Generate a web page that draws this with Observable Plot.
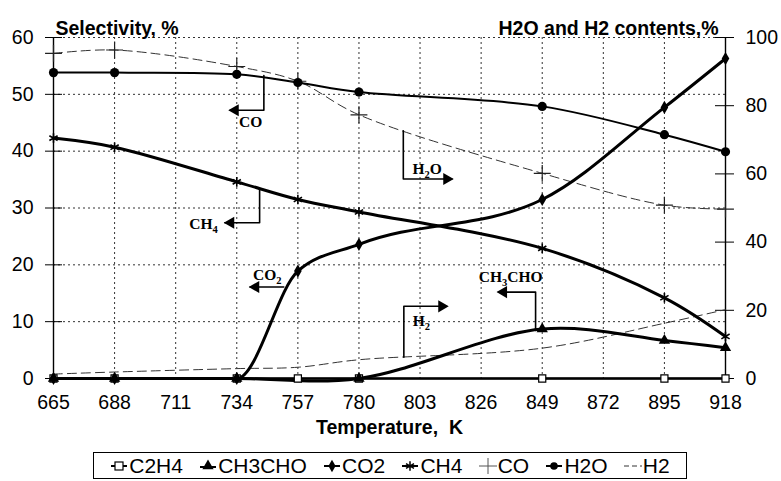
<!DOCTYPE html>
<html><head><meta charset="utf-8">
<script src="https://cdn.jsdelivr.net/npm/d3@7"></script>
<script src="https://cdn.jsdelivr.net/npm/@observablehq/plot@0.6"></script>
<style>
body{margin:0;background:#fff;}
#wrap{position:relative;width:781px;height:481px;font-family:"Liberation Sans",Arial,sans-serif;}
#legend{position:absolute;left:93px;top:452px;width:594px;height:27px;border:1.3px solid #000;box-sizing:border-box;display:flex;align-items:center;justify-content:space-evenly;font-size:21px;color:#000;}
#legend .it{display:flex;align-items:center;white-space:nowrap;}
#legend svg{margin-right:1px;}
</style></head><body><div id="wrap"><div id="legend"></div></div>
<script>
// ---- data ----
const tickTemps = [665,688,711,734,757,780,803,826,849,872,895,918];
const leftTicks = [0,10,20,30,40,50,60];
const rightTicks = [0,20,40,60,80,100];
const T = [665,688,734,757,780,849,895,918];
const c2h4 = [0,0,0,0,0,0,0,0];
const ch3choT = [665,688,734,780,849,895,918];
const ch3cho = [0,0,0,0,8.7,6.7,5.4];
const co2 = [0,0,0,18.9,23.6,31.5,47.7,56.3];
const ch4 = [42.3,40.7,34.6,31.5,29.3,22.9,14.2,7.4];
const co = [57.2,57.8,54.9,52.3,46.4,36.1,30.5,29.8];
const h2o = [89.7,89.7,89.2,86.8,84.0,79.8,71.5,66.5]; // right axis, %
const h2 = [1.3,1.9,2.9,3.3,5.5,8.9,16.2,20.2];       // right axis, %
const seriesNames = ["C2H4","CH3CHO","CO2","CH4","CO","H2O","H2"];
// callouts (data coordinates: temperature, left-axis value)
const calloutLabels = [
  {t:"CO", x:739.2, y:45.1},
  {t:"CH₄", x:721.5, y:27.1},
  {t:"H₂O", x:805.7, y:36.9},
  {t:"CO₂", x:745.5, y:18.2},
  {t:"H₂", x:803.5, y:10.1},
  {t:"CH₃CHO", x:837.1, y:17.9}
];
const calloutPaths = [
  {id:"CO", xs:[744.2,744.2,731.5], ys:[53.3,47.2,47.2]},
  {id:"CH4", xs:[742.6,742.6,729.5], ys:[33.4,27.4,27.4]},
  {id:"H2O", xs:[796.7,796.7,815], ys:[43.6,35.1,35.1]},
  {id:"CO2", xs:[751.7,739], ys:[16.1,16.1]},
  {id:"H2", xs:[796.9,796.9,813], ys:[3.75,12.7,12.7]},
  {id:"CH3CHO", xs:[846.5,846.5,832.5], ys:[8.45,15.2,15.2]}
];
const arrowsLeft = [{x:730.8,y:47.2},{x:729.1,y:27.4},{x:738.5,y:16.1},{x:831.8,y:15.2}];
const arrowsRight = [{x:815.7,y:35.1},{x:813.8,y:12.7}];

// ---- build ----
const R = 0.6; // right-axis % -> left-axis units
const rows = (xs, ys, k=1) => xs.map((x,i)=>({x, y: ys[i]*k}));
const dC2H4 = rows(T,c2h4), dCH3CHO = rows(ch3choT,ch3cho), dCO2 = rows(T,co2),
      dCH4 = rows(T,ch4), dCO = rows(T,co), dH2O = rows(T,h2o,R), dH2 = rows(T,h2,R);
const pathRows = calloutPaths.flatMap(p => p.xs.map((x,i)=>({id:p.id, x, y:p.ys[i]})));
const serif = "'Liberation Serif','Times New Roman',serif";
const curve = "catmull-rom";
const frameW = 781-53-56;

const chart = Plot.plot({
  width:781, height:481, marginLeft:53, marginRight:56, marginTop:37, marginBottom:103,
  x:{domain:[665,918]}, y:{domain:[0,60]},
  style:{fontFamily:"'Liberation Sans',Arial,sans-serif", fontSize:"19px", background:"transparent", color:"#000"},
  marks:[
    Plot.gridX(tickTemps.slice(1,-1), {stroke:"#333", strokeOpacity:1, strokeDasharray:"2,3", strokeWidth:1}),
    Plot.gridY(leftTicks.slice(1), {stroke:"#333", strokeOpacity:1, strokeDasharray:"2,3", strokeWidth:1}),
    Plot.axisX(tickTemps, {tickSize:0, tickPadding:17, label:null, fontSize:19.5}),
    Plot.axisY(leftTicks, {anchor:"left", tickSize:8, tickPadding:12, label:null, fontSize:19.5}),
    Plot.tickY(leftTicks, {y:d=>d, insetRight:frameW-9, stroke:"#000"}),
    Plot.axisY(rightTicks.map(v=>v*R), {anchor:"right", tickSize:8, tickPadding:12, label:null, fontSize:19.5, tickFormat:d=>String(Math.round(d/R))}),
    Plot.tickY(rightTicks.map(v=>v*R), {y:d=>d, insetLeft:frameW-10, stroke:"#000"}),
    Plot.ruleX([665,918], {stroke:"#000", strokeWidth:1.4}),
    Plot.ruleY([0], {stroke:"#000", strokeWidth:1.4}),
    // lines
    Plot.line(dH2, {x:"x", y:"y", curve, stroke:"#333", strokeWidth:1, strokeDasharray:"9,5"}),
    Plot.line(dCO, {x:"x", y:"y", curve, stroke:"#333", strokeWidth:1, strokeDasharray:"9,5"}),
    Plot.line(dC2H4, {x:"x", y:"y", curve, stroke:"#000", strokeWidth:2.5}),
    Plot.line(dCH3CHO, {x:"x", y:"y", curve, stroke:"#000", strokeWidth:3}),
    Plot.line(dCO2, {x:"x", y:"y", curve:"monotone-x", stroke:"#000", strokeWidth:3}),
    Plot.line(dCH4, {x:"x", y:"y", curve, stroke:"#000", strokeWidth:3}),
    Plot.line(dH2O, {x:"x", y:"y", curve, stroke:"#000", strokeWidth:2}),
    // markers
    Plot.dot(dC2H4, {x:"x", y:"y", symbol:"square", r:4, fill:"#fff", stroke:"#000", strokeWidth:1.2}),
    Plot.dot(dCH3CHO, {x:"x", y:"y", symbol:"triangle", r:4.2, fill:"#000"}),
    Plot.dot(dCO2, {x:"x", y:"y", symbol:"diamond", r:4, fill:"#000"}),
    Plot.dot(dCH4, {x:"x", y:"y", symbol:"asterisk", r:4.5, stroke:"#000", strokeWidth:1.6}),
    Plot.dot(dCO, {x:"x", y:"y", symbol:"plus", r:5.5, stroke:"#222", strokeWidth:1.2}),
    Plot.dot(dH2O, {x:"x", y:"y", symbol:"circle", r:4.6, fill:"#000"}),
    // callouts
    Plot.line(pathRows, {x:"x", y:"y", z:"id", stroke:"#000", strokeWidth:1.6}),
    Plot.dot(arrowsLeft, {x:"x", y:"y", symbol:"triangle", r:4.5, fill:"#000", rotate:-90, dx:7}),
    Plot.dot(arrowsRight, {x:"x", y:"y", symbol:"triangle", r:4.5, fill:"#000", rotate:90, dx:-7}),
    Plot.text(calloutLabels, {x:"x", y:"y", text:"t", fontFamily:serif, fontWeight:"bold", fontSize:15.5, fill:"#000"}),
    // titles
    Plot.text(["Selectivity, %"], {frameAnchor:"top-left", dx:2, dy:-16, textAnchor:"start", fontWeight:"bold", fontSize:19.5}),
    Plot.text(["H2O and H2 contents,%"], {frameAnchor:"top-right", dx:-7, dy:-16, textAnchor:"end", fontWeight:"bold", fontSize:19.5}),
    Plot.text(["Temperature,\u00a0 K"], {frameAnchor:"bottom", dy:55, fontWeight:"bold", fontSize:19.5})
  ]
});
document.getElementById("wrap").prepend(chart);

// subscripts in callout labels as real tspans
d3.select(chart).selectAll("text").each(function(){
  const s = this.textContent;
  if (!/[\u2080-\u2089]/.test(s)) return;
  const el = d3.select(this); el.text(null);
  let shifted = false;
  for (const ch of s) {
    const code = ch.charCodeAt(0);
    if (code >= 0x2080 && code <= 0x2089) {
      el.append("tspan").attr("font-size", 10.5).attr("dy", shifted ? 0 : 4).text(String(code - 0x2080));
      shifted = true;
    } else {
      el.append("tspan").attr("dy", shifted ? -4 : 0).text(ch);
      shifted = false;
    }
  }
});

// ---- legend ----
const legend = d3.select("#legend");
const sw = {
  C2H4: g => { g.append("line").attr("x1",1).attr("x2",17).attr("y1",8).attr("y2",8).attr("stroke","#000").attr("stroke-width",2);
               g.append("rect").attr("x",5).attr("y",4).attr("width",8).attr("height",8).attr("fill","#fff").attr("stroke","#000").attr("stroke-width",1.2); },
  CH3CHO: g => { g.append("line").attr("x1",1).attr("x2",17).attr("y1",9).attr("y2",9).attr("stroke","#000").attr("stroke-width",2);
               g.append("path").attr("d",d3.symbol(d3.symbolTriangle,55)()).attr("transform","translate(9,8)").attr("fill","#000"); },
  CO2: g => { g.append("line").attr("x1",1).attr("x2",17).attr("y1",8).attr("y2",8).attr("stroke","#000").attr("stroke-width",2);
               g.append("path").attr("d",d3.symbol(d3.symbolDiamond,45)()).attr("transform","translate(9,8)").attr("fill","#000"); },
  CH4: g => { g.append("line").attr("x1",1).attr("x2",17).attr("y1",8).attr("y2",8).attr("stroke","#000").attr("stroke-width",2);
               g.append("path").attr("d",d3.symbol(d3.symbolAsterisk,60)()).attr("transform","translate(9,8)").attr("stroke","#000").attr("stroke-width",1.5).attr("fill","none"); },
  CO: g => { g.append("path").attr("d",d3.symbol(d3.symbolPlus,110)()).attr("transform","translate(9,8)").attr("stroke","#555").attr("stroke-width",1).attr("fill","none"); },
  H2O: g => { g.append("line").attr("x1",1).attr("x2",17).attr("y1",8).attr("y2",8).attr("stroke","#000").attr("stroke-width",2);
               g.append("circle").attr("cx",9).attr("cy",8).attr("r",3.8).attr("fill","#000"); },
  H2: g => { g.append("line").attr("x1",0).attr("x2",18).attr("y1",8).attr("y2",8).attr("stroke","#333").attr("stroke-width",1).attr("stroke-dasharray","5,3"); }
};
seriesNames.forEach(n => {
  const it = legend.append("div").attr("class","it");
  const s = it.append("svg").attr("width",18).attr("height",16);
  sw[n](s);
  it.append("span").text(n);
});
</script></body></html>
